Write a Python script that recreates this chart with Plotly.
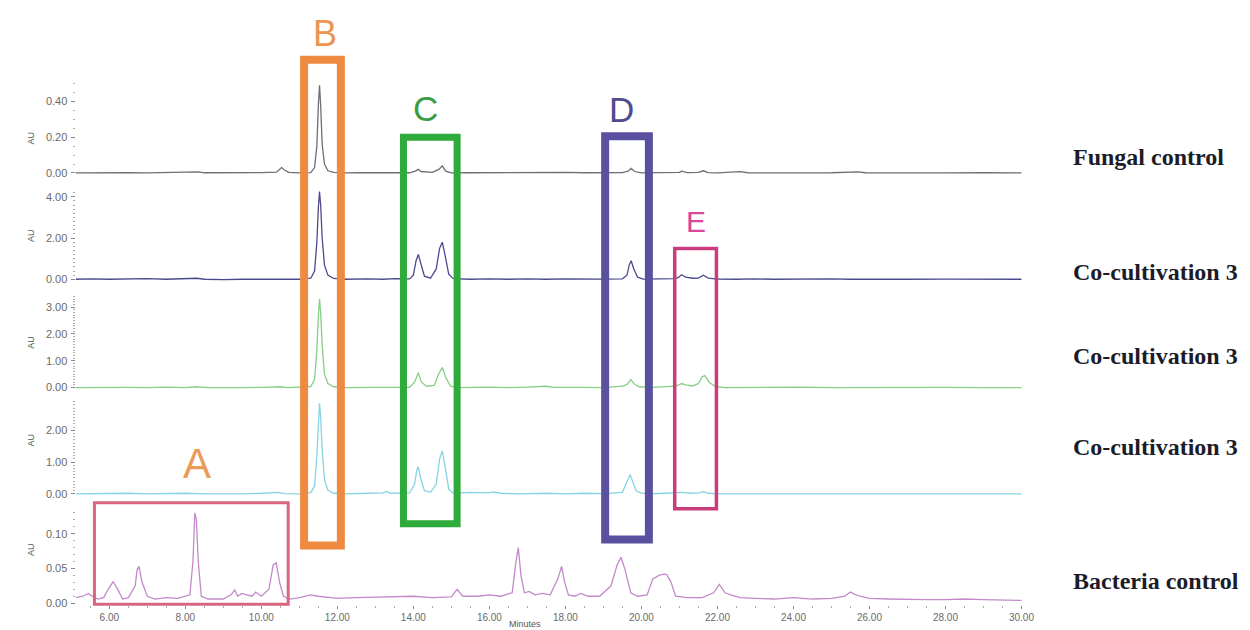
import plotly.graph_objects as go

W, H = 1250, 630

# ---------------- data ----------------
fungal_t = [5.11, 5.5, 6.0, 6.5, 7.0, 7.5, 8.0, 8.35, 8.5, 9.0, 9.5, 10.0, 10.4, 10.47, 10.53, 10.6, 10.72, 11.0, 11.3, 11.4,
            11.46, 11.5, 11.53, 11.56, 11.6, 11.66, 11.75, 11.9, 12.2, 12.6, 13.0, 13.5, 13.9, 14.05, 14.13, 14.2, 14.5,
            14.67, 14.76, 14.85, 15.0, 15.5, 16.0, 16.5, 17.0, 17.5, 18.0, 18.5, 19.0, 19.5, 19.65, 19.73, 19.82, 20.0,
            20.5, 21.0, 21.06, 21.2, 21.5, 21.63, 21.75, 22.0, 22.6, 22.8, 23.5, 24.0, 24.5, 25.0, 25.7, 25.9, 26.5, 27.0,
            28.0, 29.0, 30.0]
fungal_v = [0.0, 0.001, 0.0, 0.002, 0.0, 0.001, 0.002, 0.006, 0.001, 0.0, 0.001, 0.002, 0.004, 0.018, 0.03, 0.018, 0.003,
            0.0, 0.002, 0.03, 0.15, 0.38, 0.49, 0.38, 0.16, 0.05, 0.012, 0.003, 0.0, 0.001, 0.0, 0.002, 0.001, 0.01, 0.02,
            0.008, 0.003, 0.02, 0.04, 0.01, 0.0, 0.001, 0.002, 0.0, 0.002, 0.001, 0.003, 0.001, 0.0, 0.002, 0.01, 0.025,
            0.008, 0.0, 0.002, 0.003, 0.01, 0.002, 0.003, 0.012, 0.002, 0.0, 0.007, 0.001, 0.0, 0.002, 0.0, 0.001, 0.006,
            0.001, 0.0, 0.001, 0.0, 0.001, 0.0]

cocult1_t = [5.11, 5.5, 6.0, 6.5, 7.0, 7.5, 8.0, 8.3, 8.5, 9.0, 9.5, 10.0, 10.5, 10.7, 11.0, 11.3, 11.4, 11.46, 11.5, 11.53,
             11.56, 11.6, 11.66, 11.75, 11.9, 12.2, 12.8, 13.2, 13.5, 13.9, 14.0, 14.07, 14.13, 14.19, 14.29, 14.45, 14.6,
             14.69, 14.76, 14.83, 14.93, 15.05, 15.5, 16.0, 16.5, 17.0, 17.5, 18.0, 18.5, 19.0, 19.5, 19.62, 19.68, 19.73,
             19.8, 19.9, 20.05, 20.5, 20.9, 20.98, 21.06, 21.16, 21.35, 21.5, 21.63, 21.76, 22.0, 22.5, 23.0, 23.5, 24.0,
             24.5, 25.0, 25.5, 26.0, 26.5, 27.0, 28.0, 29.0, 30.0]
cocult1_v = [0.0, 0.02, 0.0, 0.01, 0.03, 0.0, 0.02, 0.05, 0.0, -0.02, 0.0, 0.01, 0.03, 0.0, 0.0, 0.05, 0.4, 1.8, 3.5, 4.25,
             3.6, 2.0, 0.7, 0.2, 0.04, 0.0, 0.02, 0.0, 0.03, 0.02, 0.2, 0.9, 1.2, 0.8, 0.15, 0.05, 0.5, 1.5, 1.8, 1.2, 0.25,
             0.03, 0.0, 0.02, 0.0, 0.02, 0.0, 0.02, 0.0, 0.01, 0.02, 0.2, 0.7, 0.9, 0.5, 0.1, 0.01, 0.02, 0.03, 0.1, 0.22,
             0.1, 0.05, 0.06, 0.2, 0.06, 0.01, 0.0, 0.02, 0.0, 0.01, 0.0, 0.02, 0.0, 0.01, 0.0, 0.0, 0.01, 0.0, 0.0]

cocult2_t = [5.11, 5.5, 6.0, 6.5, 7.0, 7.5, 8.0, 8.3, 8.6, 9.0, 9.5, 10.0, 10.5, 10.7, 11.3, 11.4, 11.46, 11.5, 11.53, 11.56,
             11.6, 11.66, 11.75, 11.9, 12.2, 13.0, 13.5, 13.9, 14.03, 14.13, 14.21, 14.35, 14.55, 14.66, 14.76, 14.86,
             14.98, 15.2, 16.0, 16.5, 17.0, 17.5, 17.7, 18.0, 18.5, 19.0, 19.5, 19.62, 19.72, 19.82, 19.95, 20.2, 20.6,
             20.9, 21.06, 21.16, 21.35, 21.5, 21.6, 21.67, 21.78, 21.95, 22.2, 22.8, 23.5, 24.2, 25.0, 26.0, 27.0, 28.0,
             29.0, 30.0]
cocult2_v = [0.0, 0.01, 0.0, 0.01, 0.0, 0.02, 0.0, 0.03, 0.0, -0.01, 0.0, 0.01, 0.03, 0.0, 0.04, 0.3, 1.4, 2.7, 3.3, 2.8,
             1.6, 0.5, 0.15, 0.03, 0.0, 0.01, 0.02, 0.01, 0.2, 0.55, 0.2, 0.05, 0.08, 0.5, 0.75, 0.35, 0.05, 0.0, 0.02, 0.0,
             0.02, 0.05, 0.01, 0.0, 0.01, 0.0, 0.05, 0.12, 0.3, 0.12, 0.03, 0.0, 0.02, 0.05, 0.15, 0.1, 0.06, 0.15, 0.4,
             0.45, 0.2, 0.04, 0.0, 0.01, 0.0, 0.02, 0.0, 0.01, 0.0, 0.01, 0.0, 0.0]

cocult3_t = [5.11, 5.5, 6.0, 6.5, 7.0, 7.5, 8.0, 8.5, 9.0, 9.5, 10.0, 10.45, 10.6, 11.0, 11.3, 11.4, 11.46, 11.5, 11.53,
             11.56, 11.6, 11.66, 11.75, 11.9, 12.2, 12.8, 13.2, 13.3, 13.4, 13.9, 14.03, 14.09, 14.13, 14.19, 14.29, 14.45,
             14.6, 14.69, 14.76, 14.83, 14.93, 15.05, 15.5, 16.0, 16.1, 16.3, 16.8, 17.5, 18.0, 18.5, 19.0, 19.5, 19.62,
             19.7, 19.77, 19.86, 19.98, 20.2, 20.6, 21.0, 21.06, 21.3, 21.5, 21.63, 21.75, 22.0, 23.0, 24.0, 25.0, 26.0,
             27.0, 28.0, 29.0, 30.0]
cocult3_v = [0.0, 0.01, 0.0, 0.02, 0.0, 0.01, 0.02, 0.0, -0.01, 0.0, 0.02, 0.05, 0.01, 0.0, 0.04, 0.25, 1.2, 2.3, 2.85,
             2.4, 1.4, 0.45, 0.12, 0.02, 0.0, 0.02, 0.03, 0.08, 0.02, 0.03, 0.3, 0.75, 0.85, 0.5, 0.1, 0.05, 0.3, 1.1,
             1.35, 0.9, 0.15, 0.02, 0.05, 0.03, 0.06, 0.02, 0.0, 0.02, 0.0, 0.02, 0.01, 0.05, 0.4, 0.6, 0.4, 0.1, 0.03,
             0.0, 0.02, 0.03, 0.05, 0.02, 0.03, 0.07, 0.02, 0.0, 0.0, 0.01, 0.0, 0.0, 0.01, 0.0, 0.0, 0.0]

bact_t = [5.11, 5.3, 5.45, 5.55, 5.7, 5.85, 5.97, 6.1, 6.2, 6.35, 6.5, 6.6, 6.68, 6.73, 6.78, 6.86, 7.0, 7.2, 7.5, 7.8,
          8.12, 8.2, 8.25, 8.29, 8.34, 8.42, 8.6, 9.0, 9.2, 9.3, 9.38, 9.48, 9.6, 9.75, 9.85, 10.0, 10.2, 10.31, 10.39,
          10.48, 10.58, 10.75, 11.0, 11.3, 11.5, 12.0, 12.5, 13.0, 13.5, 14.0, 14.5, 15.0, 15.15, 15.3, 15.7, 16.0, 16.3,
          16.6, 16.7, 16.76, 16.83, 16.92, 17.05, 17.2, 17.4, 17.6, 17.8, 17.9, 17.98, 18.08, 18.25, 18.4, 18.6, 18.9,
          19.2, 19.36, 19.46, 19.56, 19.72, 19.9, 20.15, 20.3, 20.46, 20.6, 20.67, 20.78, 20.9, 21.2, 21.6, 21.9, 22.05,
          22.2, 22.35, 22.6, 23.0, 23.5, 24.0, 24.5, 25.0, 25.35, 25.5, 25.6, 25.75, 26.0, 26.5, 27.0, 27.5, 28.0, 28.5,
          29.0, 29.5, 30.0]
bact_v = [0.008, 0.01, 0.014, 0.01, 0.006, 0.008, 0.02, 0.031, 0.022, 0.006, 0.008, 0.018, 0.025, 0.048, 0.053, 0.03,
          0.01, 0.006, 0.008, 0.007, 0.012, 0.06, 0.13, 0.12, 0.06, 0.01, 0.006, 0.006, 0.012, 0.019, 0.01, 0.014, 0.012,
          0.01, 0.016, 0.01, 0.02, 0.055, 0.058, 0.03, 0.01, 0.006, 0.008, 0.012, 0.01, 0.007, 0.008, 0.009, 0.01, 0.01,
          0.008, 0.009, 0.02, 0.01, 0.01, 0.012, 0.01, 0.015, 0.06, 0.08, 0.04, 0.015, 0.017, 0.012, 0.014, 0.012, 0.035,
          0.053, 0.03, 0.012, 0.01, 0.014, 0.01, 0.01, 0.025, 0.055, 0.066, 0.05, 0.015, 0.01, 0.012, 0.035, 0.04, 0.042,
          0.041, 0.03, 0.01, 0.008, 0.008, 0.015, 0.027, 0.015, 0.012, 0.008, 0.007, 0.006, 0.008, 0.006, 0.007, 0.01,
          0.016, 0.013, 0.01, 0.007, 0.006, 0.005, 0.005, 0.005, 0.006, 0.005, 0.004, 0.004]

sample_names = ["Fungal control", "Co-cultivation 3", "Co-cultivation 3", "Co-cultivation 3", "Bacteria control"]
x_ticks = [6, 8, 10, 12, 14, 16, 18, 20, 22, 24, 26, 28, 30]
y_ticks = [[0.0, 0.2, 0.4], [0.0, 2.0, 4.0], [0.0, 1.0, 2.0, 3.0], [0.0, 1.0, 2.0], [0.0, 0.05, 0.10]]
box_labels = ["A", "B", "C", "D", "E"]

# ---------------- styling / layout positions (pixels) ----------------
series = [(fungal_t, fungal_v), (cocult1_t, cocult1_v), (cocult2_t, cocult2_v), (cocult3_t, cocult3_v), (bact_t, bact_v)]
colors = ["#6e6e74", "#4b4a8e", "#86cf86", "#86d4e2", "#c389c9"]
# panel pixel geometry: (bottom px, top px, px of value 0, px per unit)
panels = [(168, 76, 166, 180.0), (275, 182, 273, 20.75), (384, 288, 382, 27.0), (491, 395, 489, 32.0), (601, 505, 599, 700.0)]
label_y = [150, 266, 350, 442, 577]
minor_n = [5, 5, 10, 10, 5]

X0, X1 = 68, 1025
px_per_min = 38.25
x_range = [6 - (102 - X0) / px_per_min, 6 + (X1 - 102) / px_per_min]

def py(p):
    return 1 - p / H

def px(p):
    return p / W

fig = go.Figure()
layout = dict(width=W, height=H, margin=dict(l=0, r=0, t=0, b=0), paper_bgcolor="white", plot_bgcolor="white",
              showlegend=False)

tick_font = dict(family="Liberation Sans, Arial", size=11, color="#6a6a6a")
annotations = []
for i, ((t, v), col, (pb, pt, p0, ppu)) in enumerate(zip(series, colors, panels)):
    yname = "y" if i == 0 else f"y{i + 1}"
    lname = "yaxis" if i == 0 else f"yaxis{i + 1}"
    fig.add_trace(go.Scatter(x=t, y=v, mode="lines", line=dict(color=col, width=1.3), xaxis="x", yaxis=yname,
                             hoverinfo="skip"))
    ymin = -(pb - p0) / ppu
    ymax = (p0 - pt) / ppu
    layout[lname] = dict(domain=[py(pb), py(pt)], range=[ymin, ymax], anchor="x",
                         tickvals=y_ticks[i], ticktext=[f"{y:.2f}" for y in y_ticks[i]],
                         ticks="outside", ticklen=4, tickcolor="#888", tickwidth=1, showgrid=False, zeroline=False,
                         showline=False, tickfont=tick_font, ticklabelstandoff=1,
                         minor=dict(nticks=minor_n[i], ticks="outside", ticklen=2, tickcolor="#aaaaaa"))
    annotations.append(dict(x=px(16), y=py((pb + pt) / 2), xref="paper", yref="paper", text="AU", showarrow=False,
                            textangle=-90, font=dict(family="Liberation Sans, Arial", size=9, color="#555")))
    annotations.append(dict(x=px(1070), y=py(label_y[i]), xref="paper", yref="paper", xanchor="left",
                            yanchor="middle", text=f"<b>{sample_names[i]}</b>", showarrow=False,
                            font=dict(family="Liberation Serif, Times New Roman", size=24, color="#1c1c28")))

layout["xaxis"] = dict(domain=[px(X0), px(X1)], range=x_range, anchor="y5", tickvals=x_ticks,
                       ticktext=[f"{x:.2f}" for x in x_ticks], ticks="outside", ticklen=3, tickcolor="#888",
                       showgrid=False, zeroline=False, showline=False, tickfont=dict(tick_font, size=10),
                       minor=dict(dtick=0.5, ticks="outside", ticklen=2, tickcolor="#aaaaaa"))
annotations.append(dict(x=px(520), y=py(627), xref="paper", yref="paper", text="Minutes", showarrow=False,
                        font=dict(family="Liberation Sans, Arial", size=9, color="#555")))

# highlight boxes: (left, right, top, bottom px, stroke width, colour)
boxes = [(87, 282, 498, 600, 3, "#d9657e"),
         (298, 335, 52, 541, 8, "#ee8b40"),
         (398, 452, 130, 519, 7, "#2eab3a"),
         (601, 645, 129, 535, 8, "#5a50a0"),
         (671, 713, 242, 504, 3.5, "#c93c7e")]
letters = [(190, 458, 42, "#ec9a58"), (319, 26, 36, "#ec9550"), (420, 101, 35, "#3a9d46"), (617, 102, 35, "#4f4b8c"),
           (692, 215, 30, "#d8489a")]
shapes = []
for (l, r, t, b, w, c) in boxes:
    shapes.append(dict(type="rect", xref="paper", yref="paper", x0=px(l), x1=px(r), y0=py(b), y1=py(t),
                       line=dict(color=c, width=w), fillcolor="rgba(0,0,0,0)", layer="above"))
for lab, (lx, ly, fs, c) in zip(box_labels, letters):
    annotations.append(dict(x=px(lx), y=py(ly), xref="paper", yref="paper", text=lab, showarrow=False,
                            xanchor="center", yanchor="middle",
                            font=dict(family="Liberation Sans, Arial", size=fs, color=c)))

layout["shapes"] = shapes
layout["annotations"] = annotations
fig.update_layout(**layout)
fig.write_html("out.html")
